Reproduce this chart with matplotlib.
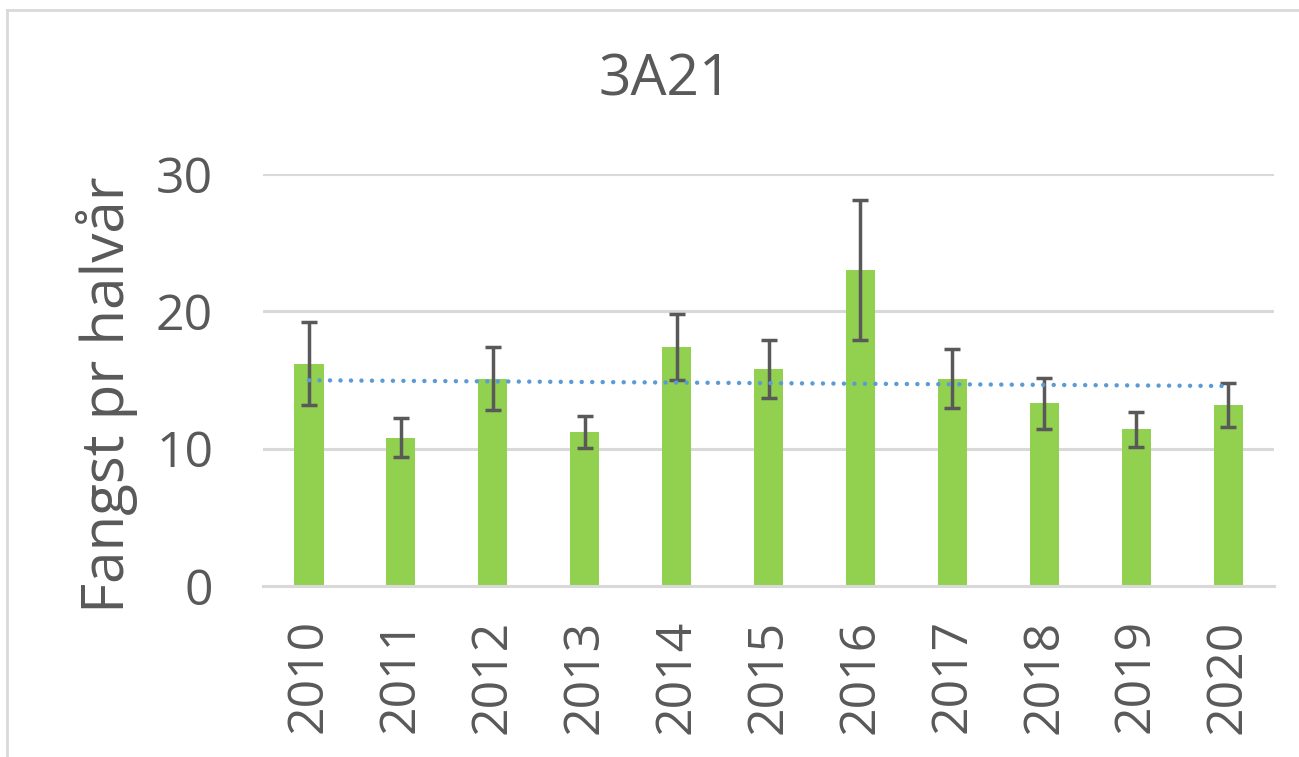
import matplotlib
matplotlib.use("Agg")
import matplotlib.pyplot as plt
import numpy as np
from matplotlib.lines import Line2D

years = ["2010", "2011", "2012", "2013", "2014", "2015", "2016", "2017", "2018", "2019", "2020"]
values = [16.2, 10.8, 15.1, 11.2, 17.4, 15.8, 23.0, 15.1, 13.3, 11.4, 13.2]
errors = [3.0, 1.4, 2.3, 1.15, 2.4, 2.1, 5.1, 2.15, 1.85, 1.3, 1.6]
yticks = [0, 10, 20, 30]

plt.rcParams['font.family'] = ['Open Sans', 'DejaVu Sans']
text_color = "#595959"
grid_color = "#D9D9D9"

fig = plt.figure(figsize=(12.99, 7.57), dpi=100)
ax = fig.add_axes([0.2025, 0.2259, 0.7783, 0.5442])

x = np.arange(len(years))
ax.bar(x, values, width=0.316, color="#92D050", zorder=2)
ax.errorbar(x, values, yerr=errors, fmt="none", ecolor="#595959",
            elinewidth=2.5, capsize=6, capthick=2.5, zorder=3)

coef = np.polyfit(x, values, 1)
trend = np.polyval(coef, x)
ax.plot(x, trend, linestyle=(0, (0.01, 2.35)), color="#5B9BD5", linewidth=3.2, zorder=4,
        dash_capstyle="round")

ax.set_xlim(-0.5, len(years) - 0.5)
ax.set_ylim(0, 30)
ax.set_yticks(yticks)
ax.set_yticklabels([str(t) for t in yticks])
ax.set_xticks(x)
ax.set_xticklabels(years, rotation=90)
ax.tick_params(axis="both", length=0, labelsize=36, colors=text_color)
ax.tick_params(axis="x", pad=24)
ax.tick_params(axis="y", pad=36)
ax.yaxis.grid(True, color=grid_color, linewidth=2.2, zorder=0)
ax.set_axisbelow(True)
for s in ["top", "right", "left"]:
    ax.spines[s].set_visible(False)
ax.spines["bottom"].set_color(grid_color)
ax.spines["bottom"].set_linewidth(2.2)

fig.text(107/1299, 1 - 395/757, "Fangst pr halvår", fontsize=42, color=text_color,
         rotation=90, ha="center", va="center")
fig.text(665/1299, 1 - 81/757, "3A21", fontsize=41, color=text_color, ha="center", va="center")

# outer frame (top and left edges)
fig.add_artist(Line2D([7/1299, 1], [1 - 10/757, 1 - 10/757], transform=fig.transFigure,
                      color=grid_color, linewidth=2))
fig.add_artist(Line2D([7/1299, 7/1299], [0, 1 - 10/757], transform=fig.transFigure,
                      color=grid_color, linewidth=2))

fig.savefig("out.png", dpi=100, facecolor="white")
